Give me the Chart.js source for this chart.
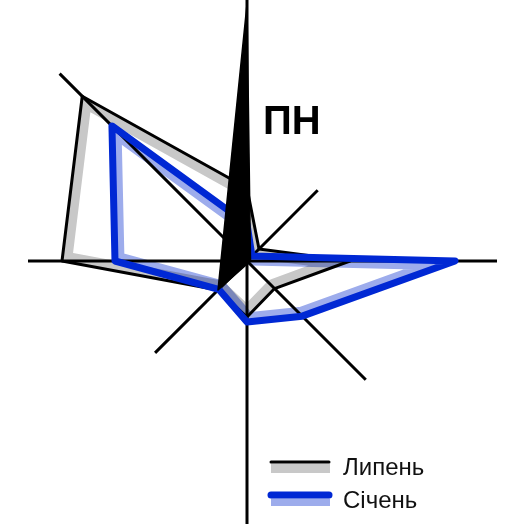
<!DOCTYPE html>
<html lang="uk">
<head>
<meta charset="utf-8">
<title>Роза вітрів</title>
<script src="https://cdn.jsdelivr.net/npm/chart.js@4.4.1/dist/chart.umd.min.js"></script>
<style>
  html, body { margin: 0; padding: 0; background: #fff; }
  #wrap { width: 506px; height: 524px; position: relative; }
</style>
</head>
<body>
<div id="wrap"><canvas id="chartRoza"></canvas></div>
<script>
// напрямки від півночі за годинниковою стрілкою
const napryamky = ['Пн', 'ПнСх', 'Сх', 'ПдСх', 'Пд', 'ПдЗх', 'Зх', 'ПнЗх'];
const lypen = [7.3, 1.7, 10.3, 3.9, 5.6, 4.1, 18.5, 23.3];
const sichen = [3.7, 0.7, 20.8, 7.8, 6.1, 4.0, 13.2, 19.1];
// довжина променів осей по кожному напрямку
const dovzhynaOsei = [26.5, 10.0, 25.0, 16.8, 26.5, 13.0, 21.9, 26.5];
const maxR = 24.7;

var myChart;

const rozaPlugin = {
    id: 'roza',
    beforeDatasetsDraw(chart) {
        const ctx = chart.ctx;
        const r = chart.scales.r;

        // світла смуга з внутрішнього боку кожного контуру
        ctx.save();
        ctx.globalCompositeOperation = 'multiply';
        chart.data.datasets.forEach((ds, i) => {
            const pts = chart.getDatasetMeta(i).data;
            ctx.save();
            ctx.beginPath();
            pts.forEach((p, k) => k ? ctx.lineTo(p.x, p.y) : ctx.moveTo(p.x, p.y));
            ctx.closePath();
            ctx.clip();
            ctx.strokeStyle = ds.bandColor;
            ctx.lineWidth = ds.bandWidth;
            ctx.lineJoin = 'round';
            ctx.stroke();
            ctx.restore();
        });
        ctx.restore();

        // осі
        ctx.save();
        ctx.strokeStyle = '#000';
        ctx.lineWidth = 3;
        dovzhynaOsei.forEach((len, i) => {
            const p = r.getPointPositionForValue(i, len);
            ctx.beginPath();
            ctx.moveTo(r.xCenter, r.yCenter);
            ctx.lineTo(p.x, p.y);
            ctx.stroke();
        });
        ctx.restore();
    },
    afterDatasetsDraw(chart) {
        const ctx = chart.ctx;
        const r = chart.scales.r;

        // стрілка на північ
        const a = r.getPointPositionForValue(0, 25.7);
        const b = r.getPointPositionForValue(2, 0.35);
        const c = r.getPointPositionForValue(5, 4.1);
        ctx.save();
        ctx.fillStyle = '#000';
        ctx.strokeStyle = '#000';
        ctx.lineWidth = 1.5;
        ctx.lineJoin = 'round';
        ctx.beginPath();
        ctx.moveTo(a.x, a.y);
        ctx.lineTo(b.x, b.y);
        ctx.lineTo(c.x, c.y);
        ctx.closePath();
        ctx.fill();
        ctx.stroke();

        ctx.font = 'bold 40px "Liberation Sans", Arial, sans-serif';
        ctx.textBaseline = 'alphabetic';
        ctx.fillText('ПН', r.xCenter + 16, r.yCenter - 127);
        ctx.restore();

        // легенда
        ctx.save();
        chart.data.datasets.forEach((ds, i) => {
            const y0 = 462 + i * 33;
            ctx.globalCompositeOperation = 'multiply';
            ctx.fillStyle = ds.bandColor;
            ctx.fillRect(271, y0 + ds.borderWidth / 2, 59, 11 - ds.borderWidth / 2);
            ctx.globalCompositeOperation = 'source-over';
            ctx.strokeStyle = ds.borderColor;
            ctx.lineWidth = ds.borderWidth;
            ctx.lineCap = 'round';
            ctx.beginPath();
            ctx.moveTo(271, y0);
            ctx.lineTo(329, y0);
            ctx.stroke();
            ctx.fillStyle = '#111';
            ctx.font = '24px "Liberation Sans", Arial, sans-serif';
            ctx.fillText(ds.label, 343, y0 + 13);
        });
        ctx.restore();
    }
};

document.addEventListener('DOMContentLoaded', () => {
    const ctx = document.getElementById('chartRoza').getContext('2d');
    myChart = new Chart(ctx, {
        type: 'radar',
        data: {
            labels: napryamky,
            datasets: [{
                label: 'Липень',
                data: lypen,
                borderColor: '#000000',
                borderWidth: 3,
                bandColor: '#c8c8c8',
                bandWidth: 20,
                order: 2
            },
            {
                label: 'Січень',
                data: sichen,
                borderColor: '#0028d4',
                borderWidth: 7,
                bandColor: '#9dacec',
                bandWidth: 19,
                order: 1
            }]
        },
        options: {
            responsive: true,
            maintainAspectRatio: false,
            animation: false,
            layout: { padding: { left: 0, right: 12, top: 0, bottom: 2 } },
            elements: {
                line: { fill: false, tension: 0, borderJoinStyle: 'round' },
                point: { radius: 0, hoverRadius: 0 }
            },
            scales: {
                r: {
                    min: 0,
                    max: maxR,
                    startAngle: 0,
                    grid: { display: false },
                    angleLines: { display: false },
                    pointLabels: { display: false },
                    ticks: { display: false }
                }
            },
            plugins: {
                legend: { display: false },
                tooltip: { enabled: false }
            }
        },
        plugins: [rozaPlugin]
    });
});
</script>
</body>
</html>
